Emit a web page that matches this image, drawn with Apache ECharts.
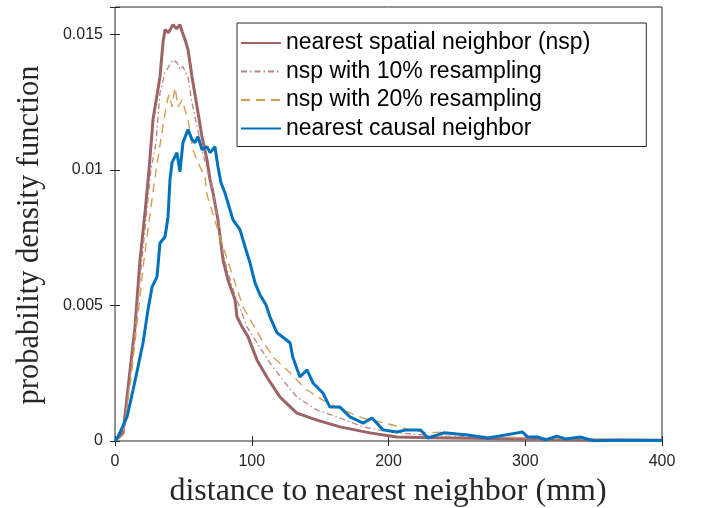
<!DOCTYPE html>
<html>
<head>
<meta charset="utf-8">
<script src="https://cdn.jsdelivr.net/npm/echarts@6/dist/echarts.min.js"></script>
<style>
  html, body { margin: 0; padding: 0; background: #fff; }
  #chart { width: 701px; height: 508px; }
</style>
</head>
<body>
<div id="chart"></div>
<script>
// values: distance (mm) -> pdf
const nspX = [0, 5.9, 11, 14.6, 18.3, 21.9, 24.9, 27.8, 32.9, 35.1, 36.6, 39, 42.4, 45, 47.5, 49, 51.2, 53.4, 56.3, 60, 63.6, 67.3, 69.5, 71.7, 75.3, 79, 82.6, 87.8, 89.2, 93, 97.3, 103.8, 111, 120.7, 133, 147.7, 164.5, 186.5, 206, 230, 260, 300, 340, 400];
const nspY = [0, 0.0003, 0.00262, 0.0042, 0.00668, 0.0084, 0.0100, 0.01185, 0.01343, 0.01469, 0.01517, 0.01505, 0.01535, 0.0152, 0.01535, 0.0151, 0.0148, 0.01443, 0.01343, 0.01232, 0.01122, 0.01037, 0.00963, 0.00915, 0.00815, 0.00668, 0.00594, 0.0052, 0.00458, 0.0042, 0.00384, 0.00299, 0.00236, 0.00162, 0.00103, 0.00077, 0.00052, 0.0003, 0.00015, 0.00012, 0.0001, 0.00007, 0.00005, 0.00003];

const nsp10X = [0, 6, 11.7, 19.7, 26.3, 30, 32.9, 36.6, 42.4, 45.3, 47.5, 49.7, 53.4, 56.3, 60, 63.6, 67.3, 71.7, 75.3, 79, 82.6, 87, 96.6, 103.8, 113.3, 122.8, 133, 147.7, 162.3, 181.4, 201, 230, 260, 300, 350, 400];
const nsp10Y = [0, 0.00025, 0.00262, 0.00668, 0.0100, 0.0110, 0.01284, 0.01358, 0.01406, 0.01395, 0.01369, 0.0138, 0.01343, 0.01247, 0.01159, 0.01074, 0.0100, 0.0092, 0.0082, 0.0069, 0.0062, 0.0055, 0.0042, 0.00362, 0.00288, 0.00225, 0.00162, 0.00114, 0.00089, 0.00052, 0.00033, 0.0002, 0.00015, 0.0001, 0.00005, 0.00003];

const nsp20X = [0, 6, 12.4, 21.2, 29.3, 35.8, 38.4, 39.5, 41.7, 43.9, 46.1, 49, 53.4, 57, 60.7, 65.8, 67.3, 79, 87.8, 93.6, 106, 115.5, 125.8, 140.4, 152, 166.6, 181, 203.1, 216.6, 228.7, 239.6, 266.6, 300, 350, 400];
const nsp20Y = [0, 0.0002, 0.00262, 0.00668, 0.00974, 0.01185, 0.01258, 0.01277, 0.01232, 0.01303, 0.01232, 0.01258, 0.01185, 0.01074, 0.01026, 0.00974, 0.00908, 0.00716, 0.00583, 0.00494, 0.00384, 0.0031, 0.00262, 0.00188, 0.00151, 0.00114, 0.00085, 0.00059, 0.0004, 0.0003, 0.00033, 0.00018, 0.00012, 0.00006, 0.00003];

const ncnX = [0, 2.2, 8.8, 13.2, 16.8, 20.5, 24.1, 27.1, 30.7, 32.9, 36.6, 38.8, 40.2, 41.7, 45.3, 47.5, 49.7, 53.4, 56.3, 58.5, 60.7, 63.6, 67.3, 69.5, 73.1, 75.3, 77.5, 80.4, 86.3, 91.4, 95.1, 98.7, 102.4, 106, 110.4, 113.3, 118.5, 128, 130, 135.2, 140.4, 144.8, 152, 157.2, 164.5, 171.8, 181.4, 188, 196, 206, 213.3, 223.5, 228.7, 240.4, 257.9, 272.5, 294.4, 298, 301.6, 309, 315, 323, 330, 340, 350, 370, 400];
const ncnY = [0, 0.00015, 0.00089, 0.00188, 0.00273, 0.00362, 0.00483, 0.00568, 0.00605, 0.0073, 0.00753, 0.00827, 0.00963, 0.01026, 0.01063, 0.00993, 0.011, 0.01148, 0.01111, 0.011, 0.01122, 0.01074, 0.01085, 0.01063, 0.01085, 0.01011, 0.00952, 0.00915, 0.00815, 0.00779, 0.00716, 0.00657, 0.00583, 0.00539, 0.00502, 0.00458, 0.00399, 0.00362, 0.0031, 0.00236, 0.00262, 0.00214, 0.00177, 0.00125, 0.00125, 0.00089, 0.00066, 0.00085, 0.00041, 0.00033, 0.00041, 0.00041, 0.00011, 0.0003, 0.00022, 0.00011, 0.0003, 0.00033, 0.00015, 0.00015, 0.00004, 0.00018, 0.00007, 0.00015, 0.00001, 0.00003, 0.00002];

const seriesNames = ['nearest spatial neighbor (nsp)', 'nsp with 10% resampling', 'nsp with 20% resampling', 'nearest causal neighbor'];
const yTicks = [0, 0.005, 0.01, 0.015];
const xTitle = 'distance to nearest neighbor (mm)';
const yTitle = 'probability density function';

const pairs = (xs, ys) => xs.map((x, i) => [x, ys[i]]);

const axisColor = '#262626';
const sans = '"Liberation Sans", Arial, sans-serif';
const serif = '"Liberation Serif", "Times New Roman", serif';

const chart = echarts.init(document.getElementById('chart'));

const tickFmt = v => (v === 0 ? '0' : String(parseFloat(v.toFixed(4))));

// box axes with ticks on all four sides
const tick = { inside: true, length: 5, lineStyle: { color: axisColor } };

chart.setOption({
  animation: false,
  backgroundColor: '#fff',
  grid: {
    left: 115, right: 39, top: 7, bottom: 67,
    show: true, borderColor: axisColor, borderWidth: 1, backgroundColor: 'transparent'
  },
  legend: {
    orient: 'vertical',
    left: 237, top: 23,
    data: seriesNames,
    itemWidth: 40, itemHeight: 14, itemGap: 4.5,
    padding: [8, 56, 6, 3],
    borderColor: axisColor, borderWidth: 1,
    backgroundColor: '#fff',
    itemStyle: { color: 'transparent', borderWidth: 0, opacity: 0 },
    textStyle: { fontFamily: sans, fontSize: 23, color: '#000', lineHeight: 24 }
  },
  xAxis: [{
    type: 'value', min: 0, max: 400, interval: 100,
    axisLine: { show: false }, axisTick: tick,
    axisLabel: { fontFamily: sans, fontSize: 16, color: '#262626', margin: 13 },
    splitLine: { show: false }
  }, {
    type: 'value', min: 0, max: 400, interval: 100, position: 'top',
    axisLine: { show: false }, axisTick: tick,
    axisLabel: { show: false }, splitLine: { show: false }
  }],
  yAxis: [{
    type: 'value', min: 0, max: 0.016, interval: 0.005,
    axisLine: { show: false }, axisTick: tick,
    axisLabel: { fontFamily: sans, fontSize: 16, color: '#262626', margin: 12, formatter: tickFmt, customValues: yTicks },
    splitLine: { show: false }
  }, {
    type: 'value', min: 0, max: 0.016, interval: 0.005, position: 'right',
    axisLine: { show: false }, axisTick: tick,
    axisLabel: { show: false }, splitLine: { show: false }
  }],
  graphic: [{
    type: 'text', x: 388, y: 492,
    style: { text: xTitle, font: '32px ' + serif, fill: '#262626', align: 'center', verticalAlign: 'middle' }
  }, {
    type: 'text', x: 30, y: 235, rotation: Math.PI / 2,
    style: { text: yTitle, font: '30.5px ' + serif, fill: '#262626', align: 'center', verticalAlign: 'middle' }
  }],
  series: [{
    name: seriesNames[0], type: 'line', showSymbol: false, symbol: 'none', z: 3,
    data: pairs(nspX, nspY),
    lineStyle: { color: '#9c6464', width: 3 }, itemStyle: { color: '#9c6464' }
  }, {
    name: seriesNames[1], type: 'line', showSymbol: false, symbol: 'none', z: 4,
    data: pairs(nsp10X, nsp10Y),
    lineStyle: { color: '#b98383', width: 1.3, type: [6, 3, 1.5, 3] }, itemStyle: { color: '#b98383' }
  }, {
    name: seriesNames[2], type: 'line', showSymbol: false, symbol: 'none', z: 4,
    data: pairs(nsp20X, nsp20Y),
    lineStyle: { color: '#d59e4f', width: 1.4, type: [9, 6] }, itemStyle: { color: '#d59e4f' }
  }, {
    name: seriesNames[3], type: 'line', showSymbol: false, symbol: 'none', z: 5,
    data: pairs(ncnX, ncnY),
    lineStyle: { color: '#0072bd', width: 3 }, itemStyle: { color: '#0072bd' }
  }]
});
</script>
</body>
</html>
